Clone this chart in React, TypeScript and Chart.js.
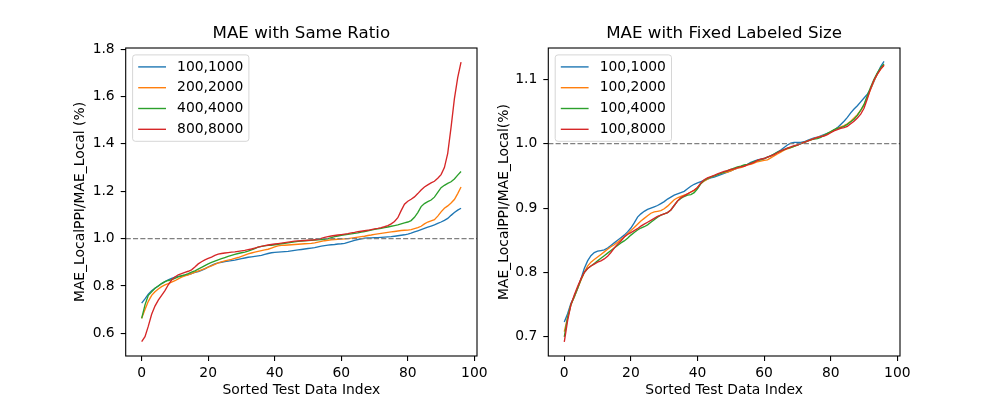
import React, { useEffect, useRef } from 'react';
import { Chart, registerables } from 'chart.js';

Chart.register(...registerables);

const FONT = "'DejaVu Sans', 'Liberation Sans', sans-serif";
const COLORS = ['#1f77b4', '#ff7f0e', '#2ca02c', '#d62728'];

const INDEX = Array.from({ length: 97 }, (_, i) => i);
const X_TICKS = [0, 20, 40, 60, 80, 100];
const LEFT_Y_TICKS = [0.6, 0.8, 1.0, 1.2, 1.4, 1.6, 1.8];
const RIGHT_Y_TICKS = [0.7, 0.8, 0.9, 1.0, 1.1];

const LEFT_TITLE = 'MAE with Same Ratio';
const RIGHT_TITLE = 'MAE with Fixed Labeled Size';
const LEFT_LABELS = ['100,1000', '200,2000', '400,4000', '800,8000'];
const RIGHT_LABELS = ['100,1000', '100,2000', '100,4000', '100,8000'];

const left1 = [0.727, 0.745, 0.765, 0.780, 0.790, 0.800, 0.810, 0.818, 0.826, 0.832, 0.837, 0.840, 0.842, 0.845, 0.848, 0.852, 0.857, 0.861, 0.866, 0.872, 0.880, 0.887, 0.893, 0.897, 0.900, 0.903, 0.905, 0.907, 0.909, 0.912, 0.915, 0.918, 0.921, 0.923, 0.925, 0.927, 0.929, 0.933, 0.937, 0.940, 0.942, 0.943, 0.944, 0.945, 0.946, 0.948, 0.950, 0.952, 0.954, 0.956, 0.958, 0.960, 0.962, 0.965, 0.968, 0.970, 0.972, 0.974, 0.975, 0.977, 0.978, 0.980, 0.984, 0.988, 0.992, 0.996, 0.999, 1.002, 1.003, 1.003, 1.004, 1.004, 1.005, 1.006, 1.007, 1.008, 1.010, 1.012, 1.014, 1.016, 1.019, 1.023, 1.028, 1.033, 1.038, 1.043, 1.048, 1.053, 1.058, 1.064, 1.070, 1.077, 1.085, 1.098, 1.110, 1.120, 1.128];
const left2 = [0.663, 0.700, 0.735, 0.760, 0.775, 0.787, 0.797, 0.804, 0.810, 0.816, 0.822, 0.830, 0.837, 0.842, 0.847, 0.852, 0.858, 0.863, 0.868, 0.873, 0.879, 0.885, 0.891, 0.897, 0.902, 0.906, 0.909, 0.912, 0.916, 0.920, 0.925, 0.930, 0.935, 0.939, 0.943, 0.946, 0.949, 0.952, 0.955, 0.960, 0.965, 0.969, 0.971, 0.972, 0.973, 0.974, 0.975, 0.976, 0.977, 0.978, 0.979, 0.980, 0.982, 0.985, 0.988, 0.991, 0.993, 0.995, 0.996, 0.997, 0.998, 0.999, 1.000, 1.002, 1.004, 1.006, 1.008, 1.010, 1.013, 1.015, 1.018, 1.020, 1.022, 1.024, 1.026, 1.028, 1.030, 1.032, 1.034, 1.035, 1.036, 1.038, 1.042, 1.046, 1.052, 1.062, 1.070, 1.075, 1.080, 1.095, 1.113, 1.128, 1.138, 1.150, 1.165, 1.190, 1.218];
const left3 = [0.663, 0.720, 0.760, 0.775, 0.790, 0.800, 0.810, 0.818, 0.823, 0.827, 0.832, 0.838, 0.843, 0.847, 0.852, 0.858, 0.864, 0.871, 0.878, 0.886, 0.893, 0.899, 0.905, 0.910, 0.915, 0.920, 0.925, 0.929, 0.933, 0.937, 0.940, 0.943, 0.947, 0.952, 0.958, 0.964, 0.967, 0.969, 0.971, 0.972, 0.974, 0.976, 0.978, 0.980, 0.982, 0.984, 0.986, 0.988, 0.989, 0.990, 0.992, 0.993, 0.994, 0.995, 0.996, 0.997, 1.000, 1.004, 1.008, 1.011, 1.014, 1.016, 1.018, 1.020, 1.022, 1.024, 1.027, 1.030, 1.033, 1.036, 1.039, 1.041, 1.043, 1.046, 1.049, 1.052, 1.055, 1.058, 1.062, 1.066, 1.070, 1.076, 1.090, 1.110, 1.135, 1.148, 1.156, 1.163, 1.175, 1.195, 1.215, 1.225, 1.233, 1.240, 1.252, 1.268, 1.283];
const left4 = [0.565, 0.586, 0.630, 0.680, 0.715, 0.740, 0.760, 0.780, 0.805, 0.825, 0.838, 0.847, 0.852, 0.857, 0.862, 0.868, 0.880, 0.893, 0.902, 0.910, 0.916, 0.922, 0.929, 0.934, 0.937, 0.939, 0.941, 0.943, 0.944, 0.946, 0.948, 0.950, 0.953, 0.956, 0.960, 0.964, 0.967, 0.970, 0.973, 0.975, 0.977, 0.979, 0.981, 0.983, 0.985, 0.987, 0.989, 0.990, 0.991, 0.992, 0.993, 0.994, 0.995, 0.997, 1.001, 1.005, 1.008, 1.011, 1.013, 1.015, 1.017, 1.019, 1.021, 1.024, 1.026, 1.029, 1.031, 1.033, 1.035, 1.038, 1.041, 1.043, 1.046, 1.050, 1.055, 1.062, 1.072, 1.088, 1.118, 1.145, 1.158, 1.166, 1.176, 1.190, 1.205, 1.218, 1.227, 1.235, 1.242, 1.255, 1.270, 1.300, 1.360, 1.470, 1.590, 1.680, 1.745];

const right1 = [0.723, 0.736, 0.752, 0.762, 0.775, 0.790, 0.806, 0.818, 0.826, 0.831, 0.833, 0.834, 0.835, 0.838, 0.842, 0.846, 0.850, 0.854, 0.858, 0.863, 0.869, 0.877, 0.886, 0.891, 0.895, 0.898, 0.900, 0.902, 0.904, 0.907, 0.910, 0.914, 0.917, 0.920, 0.922, 0.924, 0.926, 0.930, 0.934, 0.937, 0.939, 0.941, 0.943, 0.945, 0.947, 0.948, 0.950, 0.952, 0.954, 0.956, 0.958, 0.960, 0.962, 0.964, 0.966, 0.968, 0.971, 0.973, 0.975, 0.976, 0.977, 0.979, 0.981, 0.984, 0.987, 0.990, 0.994, 0.998, 1.001, 1.002, 1.002, 1.002, 1.003, 1.005, 1.007, 1.009, 1.010, 1.012, 1.014, 1.016, 1.018, 1.021, 1.025, 1.030, 1.035, 1.041, 1.048, 1.054, 1.059, 1.065, 1.071, 1.077, 1.085, 1.097, 1.109, 1.120, 1.128];
const right2 = [0.708, 0.730, 0.750, 0.762, 0.775, 0.788, 0.800, 0.810, 0.816, 0.820, 0.824, 0.828, 0.832, 0.836, 0.840, 0.843, 0.847, 0.851, 0.855, 0.860, 0.865, 0.870, 0.875, 0.880, 0.884, 0.888, 0.892, 0.894, 0.895, 0.896, 0.899, 0.903, 0.908, 0.913, 0.916, 0.918, 0.920, 0.922, 0.925, 0.927, 0.932, 0.938, 0.942, 0.945, 0.948, 0.950, 0.952, 0.954, 0.955, 0.956, 0.958, 0.960, 0.962, 0.963, 0.965, 0.967, 0.968, 0.970, 0.972, 0.973, 0.974, 0.975, 0.978, 0.981, 0.984, 0.987, 0.990, 0.992, 0.994, 0.996, 0.998, 1.000, 1.002, 1.004, 1.006, 1.008, 1.010, 1.011, 1.013, 1.015, 1.018, 1.021, 1.024, 1.026, 1.028, 1.031, 1.035, 1.040, 1.045, 1.052, 1.060, 1.072, 1.085, 1.098, 1.108, 1.116, 1.122];
const right3 = [0.700, 0.730, 0.750, 0.763, 0.776, 0.789, 0.800, 0.806, 0.810, 0.814, 0.818, 0.822, 0.826, 0.830, 0.834, 0.838, 0.842, 0.846, 0.849, 0.853, 0.858, 0.862, 0.866, 0.869, 0.871, 0.874, 0.878, 0.882, 0.886, 0.889, 0.891, 0.893, 0.897, 0.904, 0.911, 0.915, 0.918, 0.920, 0.921, 0.924, 0.930, 0.938, 0.943, 0.946, 0.948, 0.950, 0.952, 0.954, 0.956, 0.958, 0.960, 0.962, 0.964, 0.965, 0.967, 0.968, 0.970, 0.972, 0.974, 0.975, 0.977, 0.979, 0.981, 0.984, 0.987, 0.989, 0.991, 0.993, 0.994, 0.996, 0.998, 1.000, 1.002, 1.004, 1.006, 1.007, 1.008, 1.010, 1.013, 1.016, 1.019, 1.022, 1.024, 1.025, 1.027, 1.030, 1.034, 1.038, 1.044, 1.052, 1.061, 1.075, 1.088, 1.100, 1.110, 1.118, 1.124];
const right4 = [0.692, 0.725, 0.750, 0.765, 0.778, 0.790, 0.800, 0.806, 0.810, 0.813, 0.816, 0.818, 0.821, 0.825, 0.831, 0.838, 0.844, 0.849, 0.855, 0.859, 0.862, 0.865, 0.868, 0.872, 0.875, 0.878, 0.881, 0.884, 0.887, 0.889, 0.891, 0.893, 0.897, 0.904, 0.911, 0.916, 0.919, 0.922, 0.925, 0.928, 0.932, 0.939, 0.944, 0.947, 0.949, 0.951, 0.953, 0.955, 0.957, 0.958, 0.960, 0.961, 0.963, 0.964, 0.965, 0.967, 0.969, 0.971, 0.974, 0.976, 0.977, 0.979, 0.981, 0.983, 0.986, 0.989, 0.991, 0.993, 0.995, 0.997, 0.998, 1.000, 1.002, 1.004, 1.006, 1.008, 1.010, 1.011, 1.012, 1.014, 1.017, 1.020, 1.022, 1.024, 1.025, 1.027, 1.031, 1.035, 1.040, 1.046, 1.055, 1.070, 1.086, 1.099, 1.108, 1.116, 1.122];

const REF_VALUE = 1.0;

type PanelCfg = {
  title: string;
  labels: string[];
  series: number[][];
  yTicks: number[];
  yMin: number;
  yMax: number;
  yTitle: string;
  padLeft: number;
  padRight: number;
  yWidth: number;
};

const LEFT_PANEL: PanelCfg = {
  title: LEFT_TITLE,
  labels: LEFT_LABELS,
  series: [left1, left2, left3, left4],
  yTicks: LEFT_Y_TICKS,
  yMin: 0.504,
  yMax: 1.805,
  yTitle: 'MAE_LocalPPI/MAE_Local (%)',
  padLeft: 71.7,
  padRight: 523,
  yWidth: 54,
};

const RIGHT_PANEL: PanelCfg = {
  title: RIGHT_TITLE,
  labels: RIGHT_LABELS,
  series: [right1, right2, right3, right4],
  yTicks: RIGHT_Y_TICKS,
  yMin: 0.6702,
  yMax: 1.1487,
  yTitle: 'MAE_LocalPPI/MAE_Local(%)',
  padLeft: 495.7,
  padRight: 100,
  yWidth: 52.6,
};

const FS = 13.89;

function decorPlugin(labels: string[]) {
  return {
    id: 'decor',
    afterDatasetsDraw(chart: any) {
      const { ctx, chartArea: ca, scales } = chart;
      const y = scales.y.getPixelForValue(REF_VALUE);
      ctx.save();
      ctx.strokeStyle = '#808080';
      ctx.lineWidth = 1.3;
      ctx.setLineDash([5.1, 2.2]);
      ctx.beginPath();
      ctx.moveTo(ca.left, y);
      ctx.lineTo(ca.right, y);
      ctx.stroke();
      ctx.restore();
    },
    afterDraw(chart: any) {
      const { ctx, chartArea: ca } = chart;
      ctx.save();
      // axes frame
      ctx.strokeStyle = '#000';
      ctx.lineWidth = 1.1;
      ctx.strokeRect(ca.left, ca.top, ca.right - ca.left, ca.bottom - ca.top);
      // legend
      ctx.font = `${FS}px ${FONT}`;
      const textW = Math.max(...labels.map((l) => ctx.measureText(l).width));
      const bx = ca.left + 6.9;
      const by = ca.top + 6.9;
      const bw = 5.6 + 27.8 + 11.1 + textW + 5.6;
      const rowH = 20.8;
      const firstRow = 12;
      const bh = firstRow * 2 + rowH * (labels.length - 1);
      const r = 2.8;
      ctx.beginPath();
      ctx.moveTo(bx + r, by);
      ctx.lineTo(bx + bw - r, by);
      ctx.arcTo(bx + bw, by, bx + bw, by + r, r);
      ctx.lineTo(bx + bw, by + bh - r);
      ctx.arcTo(bx + bw, by + bh, bx + bw - r, by + bh, r);
      ctx.lineTo(bx + r, by + bh);
      ctx.arcTo(bx, by + bh, bx, by + bh - r, r);
      ctx.lineTo(bx, by + r);
      ctx.arcTo(bx, by, bx + r, by, r);
      ctx.closePath();
      ctx.fillStyle = 'rgba(255,255,255,0.8)';
      ctx.fill();
      ctx.strokeStyle = 'rgba(204,204,204,0.8)';
      ctx.lineWidth = 1;
      ctx.stroke();
      labels.forEach((lab, i) => {
        const cy = by + firstRow + i * rowH;
        ctx.strokeStyle = COLORS[i];
        ctx.lineWidth = 1.4;
        ctx.beginPath();
        ctx.moveTo(bx + 5.6, cy);
        ctx.lineTo(bx + 33.4, cy);
        ctx.stroke();
        ctx.fillStyle = '#000';
        ctx.textAlign = 'left';
        ctx.textBaseline = 'middle';
        ctx.fillText(lab, bx + 44.5, cy);
      });
      ctx.restore();
    },
  };
}

function makeConfig(p: PanelCfg): any {
  const gridOpts = {
    display: true,
    drawOnChartArea: false,
    drawTicks: true,
    tickLength: 5,
    color: '#000',
    lineWidth: 1.1,
  };
  return {
    type: 'line',
    data: {
      datasets: p.series.map((s, i) => ({
        label: p.labels[i],
        data: s.map((v, k) => ({ x: INDEX[k], y: v })),
        borderColor: COLORS[i],
        backgroundColor: COLORS[i],
        borderWidth: 1.35,
        pointRadius: 0,
        tension: 0,
        fill: false,
        order: p.series.length - 1 - i,
      })),
    },
    options: {
      animation: false,
      responsive: false,
      events: [],
      layout: { padding: { left: p.padLeft, right: p.padRight, top: 24, bottom: 1 } },
      plugins: {
        legend: { display: false },
        tooltip: { enabled: false },
        title: {
          display: true,
          text: p.title,
          fullSize: false,
          color: '#000',
          font: { family: FONT, size: 16.67, weight: 'normal', lineHeight: 1.2 },
          padding: { top: 0, bottom: 4 },
        },
      },
      scales: {
        x: {
          type: 'linear',
          min: -4.8,
          max: 100.8,
          afterBuildTicks: (axis: any) => {
            axis.ticks = X_TICKS.map((v) => ({ value: v }));
          },
          afterFit: (axis: any) => {
            axis.height = 43;
          },
          ticks: {
            color: '#000',
            font: { family: FONT, size: FS },
            padding: 4,
            maxRotation: 0,
            autoSkip: false,
            callback: (v: number) => String(v),
          },
          grid: gridOpts,
          border: { display: false },
          title: {
            display: true,
            text: 'Sorted Test Data Index',
            color: '#000',
            font: { family: FONT, size: FS, lineHeight: 1.2 },
            padding: 0,
          },
        },
        y: {
          type: 'linear',
          min: p.yMin,
          max: p.yMax,
          afterBuildTicks: (axis: any) => {
            axis.ticks = p.yTicks.map((v) => ({ value: v }));
          },
          afterFit: (axis: any) => {
            axis.width = p.yWidth;
          },
          ticks: {
            color: '#000',
            font: { family: FONT, size: FS },
            padding: 6,
            autoSkip: false,
            callback: (v: number) => Number(v).toFixed(1),
          },
          grid: gridOpts,
          border: { display: false },
          title: {
            display: true,
            text: p.yTitle,
            color: '#000',
            font: { family: FONT, size: FS, lineHeight: 1.2 },
            padding: 0,
          },
        },
      },
    },
    plugins: [decorPlugin(p.labels)],
  };
}

function Panel({ cfg }: { cfg: PanelCfg }) {
  const ref = useRef<HTMLCanvasElement>(null);
  useEffect(() => {
    const chart = new Chart(ref.current as HTMLCanvasElement, makeConfig(cfg));
    return () => chart.destroy();
  }, [cfg]);
  return (
    <canvas
      ref={ref}
      width={1000}
      height={400}
      style={{ position: 'absolute', left: 0, top: 0, width: 1000, height: 400 }}
    />
  );
}

export default function App() {
  return (
    <div
      style={{
        position: 'absolute',
        left: 0,
        top: 0,
        width: 1000,
        height: 400,
        background: '#fff',
        overflow: 'hidden',
      }}
    >
      <Panel cfg={LEFT_PANEL} />
      <Panel cfg={RIGHT_PANEL} />
    </div>
  );
}
